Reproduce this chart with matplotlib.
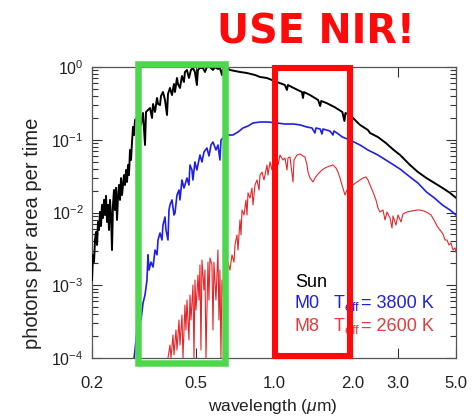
import matplotlib
matplotlib.use("Agg")
import matplotlib.pyplot as plt
from matplotlib.patches import Rectangle
from matplotlib.ticker import NullLocator, LogLocator

plt.rcParams['font.family'] = ['Liberation Sans', 'DejaVu Sans']
plt.rcParams['mathtext.fontset'] = 'custom'
plt.rcParams['mathtext.rm'] = 'Liberation Sans'
plt.rcParams['mathtext.it'] = 'Liberation Sans:italic'
plt.rcParams['mathtext.bf'] = 'Liberation Sans:bold'

# ---------------- data ----------------
sun_wl = [0.200, 0.2018, 0.2036, 0.2054, 0.2072, 0.2091, 0.2109, 0.2128, 0.2147, 0.2166,
          0.2185, 0.2204, 0.2224, 0.2244, 0.2264, 0.2284, 0.2304, 0.2324, 0.2345, 0.2366,
          0.2387, 0.2408, 0.2429, 0.2451, 0.2473, 0.2495, 0.2517, 0.2539, 0.2562, 0.2585,
          0.2608, 0.2654, 0.2678, 0.2702, 0.2726, 0.2750, 0.2774, 0.2799, 0.2824, 0.2849,
          0.2874, 0.2900, 0.2926, 0.2978, 0.3004, 0.3058, 0.3085, 0.3140, 0.3196, 0.3225,
          0.3282, 0.3341, 0.3400, 0.3431, 0.3492, 0.3554, 0.3586, 0.3649, 0.3682, 0.3747,
          0.3814, 0.3882, 0.3916, 0.3986, 0.4057, 0.4129, 0.4166, 0.4240, 0.4278, 0.4354,
          0.4431, 0.4510, 0.4550, 0.4631, 0.4713, 0.4797, 0.4882, 0.4969, 0.5057, 0.5102,
          0.5196, 0.5335, 0.5430, 0.5526, 0.5676, 0.5829, 0.5933, 0.6093, 0.6200, 0.6311,
          0.6367, 0.6595, 0.6776, 0.7083, 0.7403, 0.7869, 0.8455, 0.8836, 0.9391, 1.0265,
          1.101, 1.121, 1.131, 1.189, 1.280, 1.292, 1.303, 1.375, 1.477, 1.504,
          1.518, 1.590, 1.706, 1.830, 1.864, 1.880, 1.958, 2.139, 2.295, 2.337,
          2.506, 2.688, 2.883, 3.047, 3.329, 3.571, 3.853, 4.133, 4.434, 4.741, 5.0]
sun_flux = [0.00118, 0.00262, 0.00208, 0.00419, 0.0054, 0.00358, 0.00741, 0.00575, 0.0102, 0.00653,
            0.0127, 0.00841, 0.0149, 0.00924, 0.0169, 0.00741, 0.0127, 0.00575, 0.0149, 0.00924,
            0.00305, 0.0127, 0.0204, 0.0108, 0.0218, 0.00789, 0.0164, 0.0239, 0.0149, 0.0297,
            0.0174, 0.0327, 0.0239, 0.0384, 0.0263, 0.0450, 0.0327, 0.0723, 0.0527, 0.0932,
            0.150, 0.116, 0.187, 0.199, 0.241, 0.219, 0.160, 0.233, 0.0848, 0.241,
            0.256, 0.273, 0.199, 0.310, 0.241, 0.375, 0.310, 0.300, 0.400, 0.453,
            0.352, 0.219, 0.426, 0.515, 0.412, 0.584, 0.453, 0.706, 0.584, 0.515,
            0.752, 0.622, 0.854, 0.909, 0.706, 0.909, 0.969, 0.854, 0.566, 0.909,
            0.969, 0.969, 0.854, 1.0, 1.0, 0.909, 1.0, 0.939, 0.969, 0.776,
            0.939, 0.969, 0.909, 0.881, 0.854, 0.827, 0.776, 0.729, 0.706, 0.622,
            0.566, 0.483, 0.566, 0.515, 0.453, 0.375, 0.453, 0.412, 0.352, 0.291,
            0.341, 0.320, 0.282, 0.241, 0.181, 0.233, 0.219, 0.160, 0.136, 0.124,
            0.109, 0.0903, 0.0723, 0.0619, 0.0450, 0.0360, 0.0297, 0.0255, 0.0218, 0.0186, 0.0159]

m0_wl = [0.2900, 0.2926, 0.2951, 0.2978, 0.3004, 0.3058, 0.3085, 0.3140, 0.3196, 0.3252,
         0.3282, 0.3310, 0.3369, 0.3431, 0.3492, 0.3554, 0.3586, 0.3649, 0.3713, 0.3747,
         0.3814, 0.3847, 0.3916, 0.3950, 0.3986, 0.4057, 0.4129, 0.4166, 0.4240, 0.4317,
         0.4354, 0.4431, 0.4510, 0.4550, 0.4631, 0.4713, 0.4757, 0.4841, 0.4882, 0.4969,
         0.5057, 0.5196, 0.5290, 0.5384, 0.5526, 0.5628, 0.5728, 0.5829, 0.5987, 0.6093,
         0.6200, 0.6258, 0.6367, 0.6541, 0.6657, 0.6958, 0.7273, 0.7602, 0.7946, 0.8305,
         0.8836, 0.9484, 1.0265, 1.101, 1.189, 1.258, 1.338, 1.399, 1.436, 1.449,
         1.504, 1.528, 1.542, 1.590, 1.640, 1.684, 1.699, 1.745, 1.830, 1.958,
         2.139, 2.295, 2.506, 2.688, 2.883, 3.047, 3.329, 3.571, 3.853, 4.133,
         4.434, 4.741, 5.0]
m0_flux = [0.000100, 0.000129, 0.000177, 0.000243, 0.000303, 0.000390, 0.000333, 0.000570, 0.000735, 0.00118,
           0.00262, 0.00162, 0.00208, 0.00178, 0.00305, 0.00262, 0.00419, 0.00523, 0.00419, 0.00673,
           0.00867, 0.00575, 0.00419, 0.0108, 0.0127, 0.0149, 0.00924, 0.00984, 0.0174, 0.0204,
           0.0149, 0.0280, 0.0217, 0.0239, 0.0298, 0.0239, 0.0450, 0.0384, 0.0280, 0.0495,
           0.0384, 0.0617, 0.0495, 0.0679, 0.0770, 0.0598, 0.0847, 0.0931, 0.0723, 0.0847,
           0.0527, 0.0992, 0.1057, 0.0992, 0.1162, 0.1162, 0.1278, 0.1450, 0.1545, 0.1699,
           0.1754, 0.1754, 0.1699, 0.1646, 0.1646, 0.160, 0.1497, 0.1450, 0.1238, 0.1450,
           0.1405, 0.1200, 0.1405, 0.136, 0.1319, 0.1162, 0.1319, 0.1238, 0.1091, 0.0992,
           0.0847, 0.0723, 0.0617, 0.0527, 0.0450, 0.0396, 0.0308, 0.0254, 0.0191, 0.0158,
           0.01268, 0.01082, 0.00924]

m8_wl = [0.3916, 0.3986, 0.4021, 0.4093, 0.4129, 0.4203, 0.4240, 0.4316, 0.4354, 0.4432,
         0.4471, 0.4551, 0.4591, 0.4632, 0.4715, 0.4757, 0.4799, 0.4885, 0.4928, 0.4972,
         0.5016, 0.5106, 0.5151, 0.5196, 0.5242, 0.5289, 0.5383, 0.5431, 0.5479, 0.5577,
         0.5626, 0.5676, 0.5777, 0.5829, 0.5880, 0.5985, 0.6092, 0.6146, 0.6200, 0.6255,
         0.6311, 0.6423, 0.6480, 0.6596, 0.6655, 0.6776, 0.6897, 0.7020, 0.7082, 0.7209,
         0.7273, 0.7403, 0.7469, 0.7535, 0.7669, 0.7806, 0.7876, 0.7946, 0.8087, 0.8231,
         0.8305, 0.8453, 0.8604, 0.8757, 0.8836, 0.8994, 0.9154, 0.9400, 0.9484, 0.9652,
         0.9824, 0.9912, 1.0174, 1.0361, 1.0544, 1.0827, 1.1021, 1.1217, 1.1317, 1.1519,
         1.1829, 1.1934, 1.2254, 1.2584, 1.2922, 1.3153, 1.3387, 1.3506, 1.3748, 1.4117,
         1.4369, 1.4755, 1.5287, 1.5698, 1.5978, 1.6408, 1.6849, 1.7302, 1.7611, 1.7925,
         1.8245, 1.8735, 1.9070, 1.9582, 2.0108, 2.0833, 2.1393, 2.1968, 2.2559, 2.2960,
         2.3371, 2.3999, 2.4644, 2.5084, 2.5532, 2.6218, 2.6686, 2.7163, 2.7893, 2.8390,
         2.8642, 2.9412, 2.9936, 3.0743, 3.1291, 3.2417, 3.3884, 3.5415, 3.6368, 3.7677,
         3.9033, 4.0084, 4.1161, 4.2267, 4.3405, 4.4572, 4.5367, 4.6176, 4.7000, 4.7839,
         4.8693, 4.9561, 5.0]
m8_flux = [0.000100, 0.000151, 0.000100, 0.000207, 0.000110, 0.000243, 0.000129, 0.000333, 0.000151, 0.000390,
           0.000100, 0.000535, 0.000243, 0.000627, 0.000177, 0.000735, 0.000333, 0.00101, 0.000100, 0.00118,
           0.000457, 0.00138, 0.000627, 0.00190, 0.000129, 0.00222, 0.000860, 0.00162, 0.000100, 0.00208,
           0.000627, 0.00237, 0.00190, 0.000243, 0.00208, 0.000627, 0.00305, 0.000333, 0.00162, 0.000100,
           0.00118, 0.000627, 0.00190, 0.00138, 0.00208, 0.00162, 0.00262, 0.00208, 0.00358, 0.00491,
           0.00305, 0.00789, 0.00491, 0.01082, 0.00924, 0.01485, 0.00924, 0.0186, 0.0158, 0.0217,
           0.01268, 0.0239, 0.0280, 0.0204, 0.0327, 0.0360, 0.0280, 0.0450, 0.0327, 0.0495,
           0.0384, 0.0527, 0.0562, 0.0450, 0.0617, 0.0527, 0.0562, 0.0384, 0.0562, 0.0579,
           0.0263, 0.0527, 0.0617, 0.0637, 0.0598, 0.0579, 0.0450, 0.0360, 0.0298, 0.0263,
           0.0298, 0.0338, 0.0384, 0.0409, 0.0422, 0.0436, 0.0450, 0.0409, 0.0360, 0.0298,
           0.0239, 0.0174, 0.0204, 0.0217, 0.0239, 0.0263, 0.0280, 0.0298, 0.0308, 0.0280,
           0.0239, 0.0191, 0.01485, 0.01153, 0.01016, 0.01082, 0.00789, 0.01016, 0.00841, 0.00612,
           0.00895, 0.00673, 0.00924, 0.00741, 0.00954, 0.01016, 0.01049, 0.01082, 0.01082, 0.01049,
           0.00984, 0.00924, 0.00789, 0.00653, 0.00575, 0.00506, 0.00419, 0.00419, 0.00358, 0.00381,
           0.00305, 0.00326, 0.00287]

x_ticks = [0.2, 0.5, 1.0, 2.0, 3.0, 5.0]
x_ticklabels = ['0.2', '0.5', '1.0', '2.0', '3.0', '5.0']
y_ticks = [1e-4, 1e-3, 1e-2, 1e-1, 1e0]
y_ticklabels = [r'$10^{-4}$', r'$10^{-3}$', r'$10^{-2}$', r'$10^{-1}$', r'$10^{0}$']

# ---------------- figure ----------------
W, H = 475, 418
fig = plt.figure(figsize=(W / 100, H / 100), dpi=100)
ax = fig.add_axes([92 / W, 1 - 358 / H, (456 - 92) / W, (358 - 67) / H])

ax.plot(sun_wl, sun_flux, color='black', lw=1.4, zorder=3)
ax.plot(m0_wl, m0_flux, color='#1f1fe6', lw=1.2, zorder=3)
ax.plot(m8_wl, m8_flux, color='#e8262a', lw=0.8, zorder=3)

ax.set_xscale('log')
ax.set_yscale('log')
ax.set_xlim(0.2, 5.0)
ax.set_ylim(1e-4, 1.0)
ax.set_xticks(x_ticks)
ax.set_xticklabels(x_ticklabels)
ax.xaxis.set_minor_locator(NullLocator())
ax.set_yticks(y_ticks)
ax.set_yticklabels(y_ticklabels)
ax.yaxis.set_minor_locator(LogLocator(base=10, subs=range(2, 10)))
ax.tick_params(which='both', direction='in', top=True, right=True, colors='#333333', width=0.8)
ax.tick_params(which='major', length=7)
ax.tick_params(which='minor', length=4)
ax.tick_params(axis='x', which='major', pad=13, labelsize=12, labelcolor='#222222')
ax.tick_params(axis='y', which='major', pad=6, labelsize=11.5, labelcolor='#222222')
for s in ax.spines.values():
    s.set_color('#555555')
    s.set_linewidth(0.9)

fig.text(273 / W, 1 - 406 / H, r'wavelength ($\mu$m)', ha='center', va='center',
         fontsize=12.5, color='#222222')
fig.text(33 / W, 1 - 233 / H, 'photons per area per time', ha='center', va='center',
         rotation=90, fontsize=14.5, color='#222222')

# legend-like labels
fig.text(295 / W, 1 - 287 / H, 'Sun', ha='left', va='baseline', fontsize=13, color='black')
fig.text(295 / W, 1 - 308 / H, 'M0', ha='left', va='baseline', fontsize=13, color='#1f1fe6')
fig.text(333 / W, 1 - 308 / H, r'T$_{\rm eff}$', ha='left', va='baseline', fontsize=13, color='#1f1fe6')
fig.text(361 / W, 1 - 308 / H, '= 3800 K', ha='left', va='baseline', fontsize=13, color='#1f1fe6')
fig.text(295 / W, 1 - 331 / H, 'M8', ha='left', va='baseline', fontsize=13, color='#e83a3a')
fig.text(333 / W, 1 - 331 / H, r'T$_{\rm eff}$', ha='left', va='baseline', fontsize=13, color='#e83a3a')
fig.text(361 / W, 1 - 331 / H, '= 2600 K', ha='left', va='baseline', fontsize=13, color='#e83a3a')

# highlight boxes (figure pixel positions)
green = Rectangle((137.5 / W, 1 - 362.5 / H), (225 - 137.5) / W, (362.5 - 64) / H,
                  transform=fig.transFigure, fill=False, edgecolor='#4fd64f', lw=4.7,
                  joinstyle='miter', zorder=10)
red = Rectangle((275 / W, 1 - 356 / H), (350 - 275) / W, (356 - 68) / H,
                transform=fig.transFigure, fill=False, edgecolor='#ff0a0a', lw=4.4,
                joinstyle='miter', zorder=10)
fig.patches.extend([green, red])

fig.text(316 / W, 1 - 43 / H, 'USE NIR!', ha='center', va='baseline', fontsize=28.5,
         fontweight='bold', family='DejaVu Sans', color='#ff0a0a')

fig.savefig('out.png', dpi=100)
